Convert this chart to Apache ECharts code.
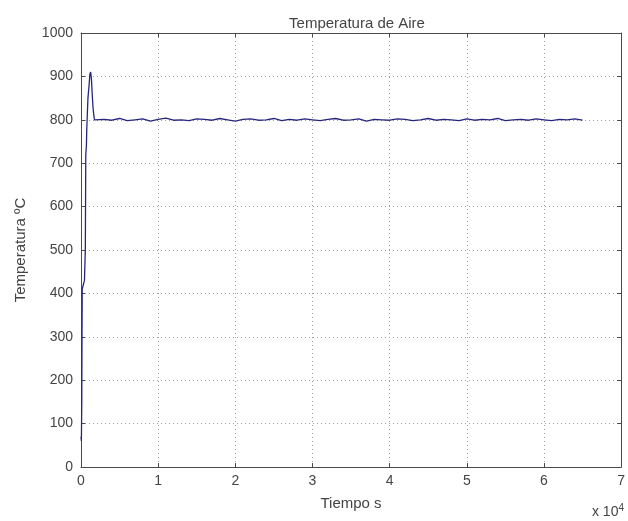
<!DOCTYPE html>
<html>
<head>
<meta charset="utf-8">
<script src="https://cdn.jsdelivr.net/npm/echarts@6/dist/echarts.min.js"></script>
<style>
  html, body { margin: 0; padding: 0; background: #fff; }
  #chart { width: 628px; height: 521px; }
</style>
</head>
<body>
<div id="chart"></div>
<script>
// Air temperature (°C) against time (s)
const startTimes = [0, 50, 100, 130, 160, 300, 450, 560, 620, 700, 750, 900, 1050, 1150, 1250, 1350, 1450, 1550, 1650, 1750, 1850, 2000];
const startTemps = [70, 60, 150, 300, 410, 420, 430, 500, 720, 740, 780, 850, 880, 905, 910, 895, 860, 830, 812, 800, 797, 803];

const steadyTimes = [3000, 4000, 5000, 6000, 7000, 8000, 9000, 10000, 11000, 12000, 13000, 14000, 15000, 16000, 17000, 18000, 19000, 20000,
  21000, 22000, 23000, 24000, 25000, 26000, 27000, 28000, 29000, 30000, 31000, 32000, 33000, 34000, 35000, 36000, 37000, 38000, 39000, 40000,
  41000, 42000, 43000, 44000, 45000, 46000, 47000, 48000, 49000, 50000, 51000, 52000, 53000, 54000, 55000, 56000, 57000, 58000, 59000, 60000,
  61000, 62000, 63000, 64000, 65000];
const steadyTemps = [801, 799, 803, 798, 800, 802, 797, 801, 804, 799, 800, 798, 802, 801, 799, 803, 800, 797, 801, 802,
  799, 800, 803, 798, 801, 799, 802, 800, 798, 801, 803, 799, 800, 802, 797, 801, 800, 799, 802, 801,
  798, 800, 803, 799, 801, 800, 798, 802, 799, 801, 800, 803, 798, 800, 801, 799, 802, 800, 798, 801,
  800, 802, 799];

const xTicks = [0, 1, 2, 3, 4, 5, 6, 7];       // ×10^4 s
const yTicks = [0, 100, 200, 300, 400, 500, 600, 700, 800, 900, 1000];

const times = startTimes.concat(steadyTimes);
const temps = startTemps.concat(steadyTemps);
const points = times.map((t, i) => [t, temps[i]]);

const FONT = 'Liberation Sans, Arial, sans-serif';
const TXT = '#444';
const AX = '#4a4a4a';
const gridLine = { show: true, lineStyle: { color: '#a0a0a0', type: [1, 3], width: 1 } };
const frame = { show: true, onZero: false, lineStyle: { color: AX, width: 1 } };
const ticks = { show: true, inside: true, length: 4, lineStyle: { color: AX } };

const chart = echarts.init(document.getElementById('chart'), null, { renderer: 'canvas' });
chart.setOption({
  animation: false,
  backgroundColor: '#fff',
  title: {
    text: 'Temperatura de Aire',
    left: 352, top: 11, textAlign: 'center',
    textStyle: { fontFamily: FONT, fontSize: 15, fontWeight: 'normal', color: TXT }
  },
  grid: { left: 81, right: 4, top: 33, bottom: 54, containLabel: false },
  xAxis: [{
    type: 'value', min: 0, max: 70000, interval: 10000,
    axisLine: frame, axisTick: ticks,
    splitLine: gridLine,
    axisLabel: { fontFamily: FONT, fontSize: 14, color: TXT, margin: 7,
      formatter: v => String(xTicks[Math.round(v / 10000)]) },
    name: 'Tiempo s', nameLocation: 'middle', nameGap: 29,
    nameTextStyle: { fontFamily: FONT, fontSize: 15, color: TXT }
  }, {
    type: 'value', position: 'top', min: 0, max: 70000, interval: 10000,
    axisLine: frame, axisTick: ticks,
    axisLabel: { show: false }, splitLine: { show: false }
  }],
  yAxis: [{
    type: 'value', min: 0, max: 1000, interval: 100,
    axisLine: frame, axisTick: ticks,
    splitLine: gridLine,
    axisLabel: { fontFamily: FONT, fontSize: 14, color: TXT, margin: 8,
      formatter: v => String(yTicks[Math.round(v / 100)]) },
    name: 'Temperatura ºC', nameLocation: 'middle', nameGap: 53, nameRotate: 90,
    nameTextStyle: { fontFamily: FONT, fontSize: 15, color: TXT }
  }, {
    type: 'value', position: 'right', min: 0, max: 1000, interval: 100,
    axisLine: frame, axisTick: ticks,
    axisLabel: { show: false }, splitLine: { show: false }
  }],
  graphic: [{
    type: 'text', right: 4, top: 503,
    style: {
      text: 'x 10{s|4}',
      rich: { s: { fontSize: 10, verticalAlign: 'top', padding: [0, 0, 9, 0], fontFamily: FONT, fill: TXT } },
      fontFamily: FONT, fontSize: 14, fill: TXT
    }
  }],
  series: [{
    type: 'line', xAxisIndex: 0, yAxisIndex: 0,
    data: points, showSymbol: false, symbol: 'none',
    lineStyle: { color: '#26267e', width: 1.3 }
  }]
});
</script>
</body>
</html>
